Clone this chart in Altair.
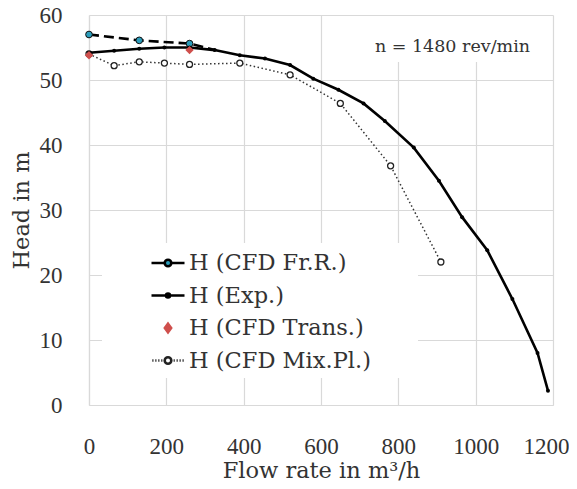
import altair as alt
import pandas as pd

# ---------------- data ----------------
exp_q = [0, 65, 130, 195, 260, 325, 390, 455, 520, 580, 645, 710, 765, 840, 905, 965, 1030, 1095, 1160, 1187]
exp_h = [54.2, 54.5, 54.8, 55.0, 55.0, 54.6, 53.8, 53.3, 52.3, 50.2, 48.5, 46.4, 43.7, 39.6, 34.5, 28.9, 23.8, 16.3, 8.0, 2.2]

frr_q = [0, 130, 260, 325]
frr_h = [57.0, 56.1, 55.6, 54.6]
frr_marker = [True, True, True, False]

trans_q = [0, 260]
trans_h = [53.8, 54.6]

mix_q = [0, 65, 130, 195, 260, 390, 520, 650, 780, 910]
mix_h = [54.0, 52.2, 52.8, 52.6, 52.4, 52.6, 50.8, 46.4, 36.8, 22.0]

series_names = ["H (CFD Fr.R.)", "H (Exp.)", "H (CFD Trans.)", "H (CFD Mix.Pl.)"]
x_ticks = [0, 200, 400, 600, 800, 1000, 1200]
y_ticks = [0, 10, 20, 30, 40, 50, 60]
annot_text = ["n = 1480 rev/min"]
annot_q = [940]
annot_h = [55.1]

FONT = "DejaVu Serif"
TICKFONT = "Liberation Serif"
FS = 22.5
TEXT = "#333333"
TEAL = "#2b9dbb"
RED = "#cf4f4c"
GRID = "#d9d9d9"

df_exp = pd.DataFrame({"Q": exp_q, "H": exp_h})
df_frr = pd.DataFrame({"Q": frr_q, "H": frr_h, "m": frr_marker})
df_trans = pd.DataFrame({"Q": trans_q, "H": trans_h})
df_mix = pd.DataFrame({"Q": mix_q, "H": mix_h})
df_leg = pd.DataFrame({"series": series_names})
df_ann = pd.DataFrame({"t": annot_text, "Q": annot_q, "H": annot_h})

xs = alt.Scale(domain=[0, 1200], nice=False)
ys = alt.Scale(domain=[0, 60], nice=False)

X = alt.X("Q:Q", scale=xs, axis=alt.Axis(values=x_ticks, title="Flow rate in m³/h", format="d",
                                         grid=True, gridColor=GRID, gridWidth=1.2, gridOpacity=1,
                                         domain=True, domainColor=GRID, domainWidth=1.2,
                                         ticks=False, labelFlush=False, labelPadding=30, titlePadding=1,
                                         labelOffset={"condition": {"test": "datum.value === 1200", "value": -7}, "value": 0}))
Y = alt.Y("H:Q", scale=ys, axis=alt.Axis(values=y_ticks, title="Head in m",
                                         grid=True, gridColor=GRID, gridWidth=1.2, gridOpacity=1,
                                         domain=True, domainColor=GRID, domainWidth=1.2,
                                         ticks=False, labelFlush=False, labelPadding=27, titlePadding=6))

# white backgrounds (legend box and annotation box) masking grid lines
bg_leg = alt.Chart(df_ann).mark_rect(color="white").encode(
    x=alt.value(13), x2=alt.value(329), y=alt.value(228), y2=alt.value(363))
bg_ann = alt.Chart(df_ann).mark_rect(color="white").encode(
    x=alt.value(276), x2=alt.value(463), y=alt.value(1), y2=alt.value(47))

mix_line = alt.Chart(df_mix).mark_line(color="#333333", strokeWidth=1.5, strokeDash=[1.5, 2.5]).encode(x=X, y=Y)
mix_pts = alt.Chart(df_mix).mark_point(shape="circle", size=36, filled=True, fill="white",
                                       stroke="#222222", strokeWidth=1.3, opacity=1).encode(x=X, y=Y)

frr_line = alt.Chart(df_frr).mark_line(color="black", strokeWidth=2.6, strokeDash=[10, 5]).encode(x=X, y=Y)
frr_pts = alt.Chart(df_frr).transform_filter("datum.m").mark_point(
    shape="circle", size=45, filled=True, fill=TEAL, stroke="#111111", strokeWidth=1, opacity=1).encode(x=X, y=Y)

exp_line = alt.Chart(df_exp).mark_line(color="black", strokeWidth=2.6).encode(x=X, y=Y)
exp_pts = alt.Chart(df_exp).mark_point(shape="circle", size=16, filled=True, color="black", opacity=1).encode(x=X, y=Y)

trans_pts = alt.Chart(df_trans).mark_point(shape="diamond", size=70, filled=True, color=RED, opacity=1).encode(x=X, y=Y)

ann = alt.Chart(df_ann).mark_text(font=FONT, fontSize=17.5, color=TEXT).encode(x=X, y=Y, text="t:N")

# legend symbols (custom paths, unit = half symbol width)
p_frr = "M-1,0H-0.2M0.2,0H1M0.2,0A0.2,0.2,0,1,1,-0.2,0A0.2,0.2,0,1,1,0.2,0Z"
p_exp = "M-1,0H-0.12M0.12,0H1M0.12,0A0.12,0.12,0,1,1,-0.12,0A0.12,0.12,0,1,1,0.12,0Z"
p_trans = "M0,-0.26L0.19,0L0,0.26L-0.19,0Z"
p_mix = ("M-0.95,0h0.07M-0.77,0h0.07M-0.59,0h0.07M-0.41,0h0.07"
         "M0.34,0h0.07M0.52,0h0.07M0.70,0h0.07M0.88,0h0.07"
         "M0.2,0A0.2,0.2,0,1,1,-0.2,0A0.2,0.2,0,1,1,0.2,0Z")

leg = alt.Legend(orient="none", legendX=61, legendY=230, title=None, padding=0,
                 labelFont=FONT, labelFontSize=FS, labelColor=TEXT, labelOffset=3,
                 symbolSize=1089, rowPadding=2.5, symbolOpacity=1, labelLimit=400)

legend_layer = alt.Chart(df_leg).mark_point(opacity=0, filled=True).encode(
    x=alt.value(-1000), y=alt.value(-1000),
    shape=alt.Shape("series:N", scale=alt.Scale(domain=series_names, range=[p_frr, p_exp, p_trans, p_mix]), legend=leg),
    fill=alt.Fill("series:N", scale=alt.Scale(domain=series_names, range=[TEAL, "black", RED, "white"]), legend=leg),
    stroke=alt.Stroke("series:N", scale=alt.Scale(domain=series_names, range=["black", "black", RED, "#222222"]), legend=leg),
    strokeWidth=alt.StrokeWidth("series:N", scale=alt.Scale(domain=series_names, range=[2.6, 2.6, 0.5, 1.4]), legend=leg),
)

chart = alt.layer(
    bg_leg, bg_ann, mix_line, mix_pts, frr_line, frr_pts, exp_line, exp_pts, trans_pts, ann, legend_layer
).properties(
    width=464, height=390,
    autosize=alt.AutoSizeParams(type="none"),
    padding={"left": 81, "top": 7, "right": 16, "bottom": 76},
).configure_view(stroke=None).configure_axis(
    labelFont=TICKFONT, labelFontSize=23, labelColor=TEXT,
    titleFont=FONT, titleFontSize=FS, titleColor=TEXT, titleFontWeight="normal",
)

chart.save("out.html", embed_options={"renderer": "svg", "actions": False})
